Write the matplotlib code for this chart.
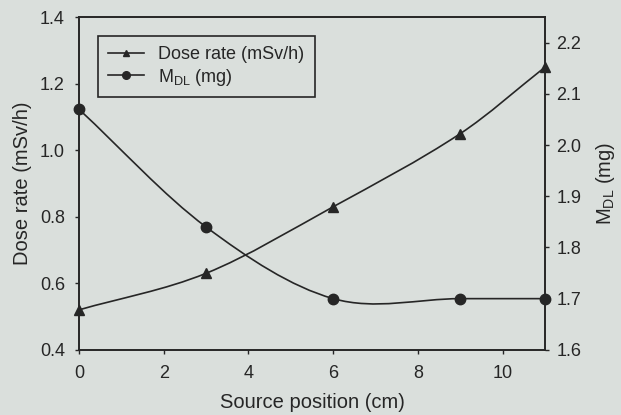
"""
    Dose rate and M_DL against source position, twin y-axes.
"""

import numpy as np
from matplotlib import pyplot as plt
from matplotlib.lines import Line2D
from matplotlib.patches import PathPatch
from matplotlib.path import Path

# data
position = [0, 3, 6, 9, 11]
dose_rate = [0.52, 0.63, 0.83, 1.05, 1.25]
m_dl = [2.07, 1.84, 1.70, 1.70, 1.70]

x_ticks = [0, 2, 4, 6, 8, 10]
left_ticks = [0.4, 0.6, 0.8, 1.0, 1.2, 1.4]
right_ticks = [1.6, 1.7, 1.8, 1.9, 2.0, 2.1, 2.2]

BG = '#dadfdc'
INK = '#262626'


def smooth_path(x, y):
    """Cubic Hermite path through the points, as Bezier segments."""
    x = np.asarray(x, float)
    y = np.asarray(y, float)
    n = len(x)
    m = np.empty(n)
    m[0] = (y[1] - y[0]) / (x[1] - x[0])
    m[-1] = (y[-1] - y[-2]) / (x[-1] - x[-2])
    for i in range(1, n - 1):
        m[i] = (y[i + 1] - y[i - 1]) / (x[i + 1] - x[i - 1])
    verts = [(x[0], y[0])]
    codes = [Path.MOVETO]
    for i in range(n - 1):
        h = x[i + 1] - x[i]
        verts += [(x[i] + h / 3, y[i] + m[i] * h / 3),
                  (x[i + 1] - h / 3, y[i + 1] - m[i + 1] * h / 3),
                  (x[i + 1], y[i + 1])]
        codes += [Path.CURVE4] * 3
    return Path(verts, codes)


def main():
    plt.rcParams['font.family'] = ['Liberation Sans', 'DejaVu Sans']
    plt.rcParams['text.color'] = INK
    plt.rcParams['axes.labelcolor'] = INK
    plt.rcParams['xtick.color'] = INK
    plt.rcParams['ytick.color'] = INK

    fig = plt.figure(figsize=(6.21, 4.15), dpi=100, facecolor=BG)
    ax = fig.add_axes([0.127, 0.157, 0.751, 0.802], facecolor=BG)
    ax2 = ax.twinx()

    ax.add_patch(PathPatch(smooth_path(position, dose_rate), fill=False,
                           edgecolor=INK, lw=1.2))
    ax.plot(position, dose_rate, ls='none', marker='^', ms=7,
            color=INK, clip_on=False, zorder=3)

    ax2.add_patch(PathPatch(smooth_path(position, m_dl), fill=False,
                            edgecolor=INK, lw=1.2))
    ax2.plot(position, m_dl, ls='none', marker='o', ms=7.5,
             color=INK, clip_on=False, zorder=3)

    ax.set_xlim(0, 11)
    ax.set_ylim(0.4, 1.4)
    ax2.set_ylim(1.6, 2.25)
    ax.set_xticks(x_ticks)
    ax.set_yticks(left_ticks)
    ax2.set_yticks(right_ticks)
    ax.set_yticklabels([f'{v:.1f}' for v in left_ticks])
    ax2.set_yticklabels([f'{v:.1f}' for v in right_ticks])

    for a in (ax, ax2):
        for s in a.spines.values():
            s.set_color(INK)
            s.set_linewidth(1.2)
        a.tick_params(labelsize=13, length=3, width=1, direction='out')
    ax.tick_params(axis='x', pad=8)
    ax.tick_params(axis='y', pad=7)
    ax2.tick_params(axis='y', pad=5)

    ax.set_xlabel('Source position (cm)', fontsize=14.5, labelpad=8)
    ax.set_ylabel('Dose rate (mSv/h)', fontsize=14.5, labelpad=6)
    ax2.set_ylabel(r'M$_{\mathregular{DL}}$ (mg)', fontsize=14.5, labelpad=9)

    handles = [Line2D([], [], color=INK, lw=1.2, marker='^', ms=5),
               Line2D([], [], color=INK, lw=1.2, marker='o', ms=5.5)]
    labels = ['Dose rate (mSv/h)', r'M$_{\mathregular{DL}}$ (mg)']
    leg = ax2.legend(handles, labels, loc='upper left',
                     bbox_to_anchor=(0.041, 0.943), borderaxespad=0,
                     fontsize=13, fancybox=False, framealpha=1,
                     facecolor=BG, edgecolor=INK, handlelength=2.0,
                     handletextpad=0.8, borderpad=0.55, labelspacing=0.2)
    leg.get_frame().set_linewidth(1.2)

    fig.savefig('out.png', dpi=100, facecolor=BG)


if __name__ == '__main__':
    main()
